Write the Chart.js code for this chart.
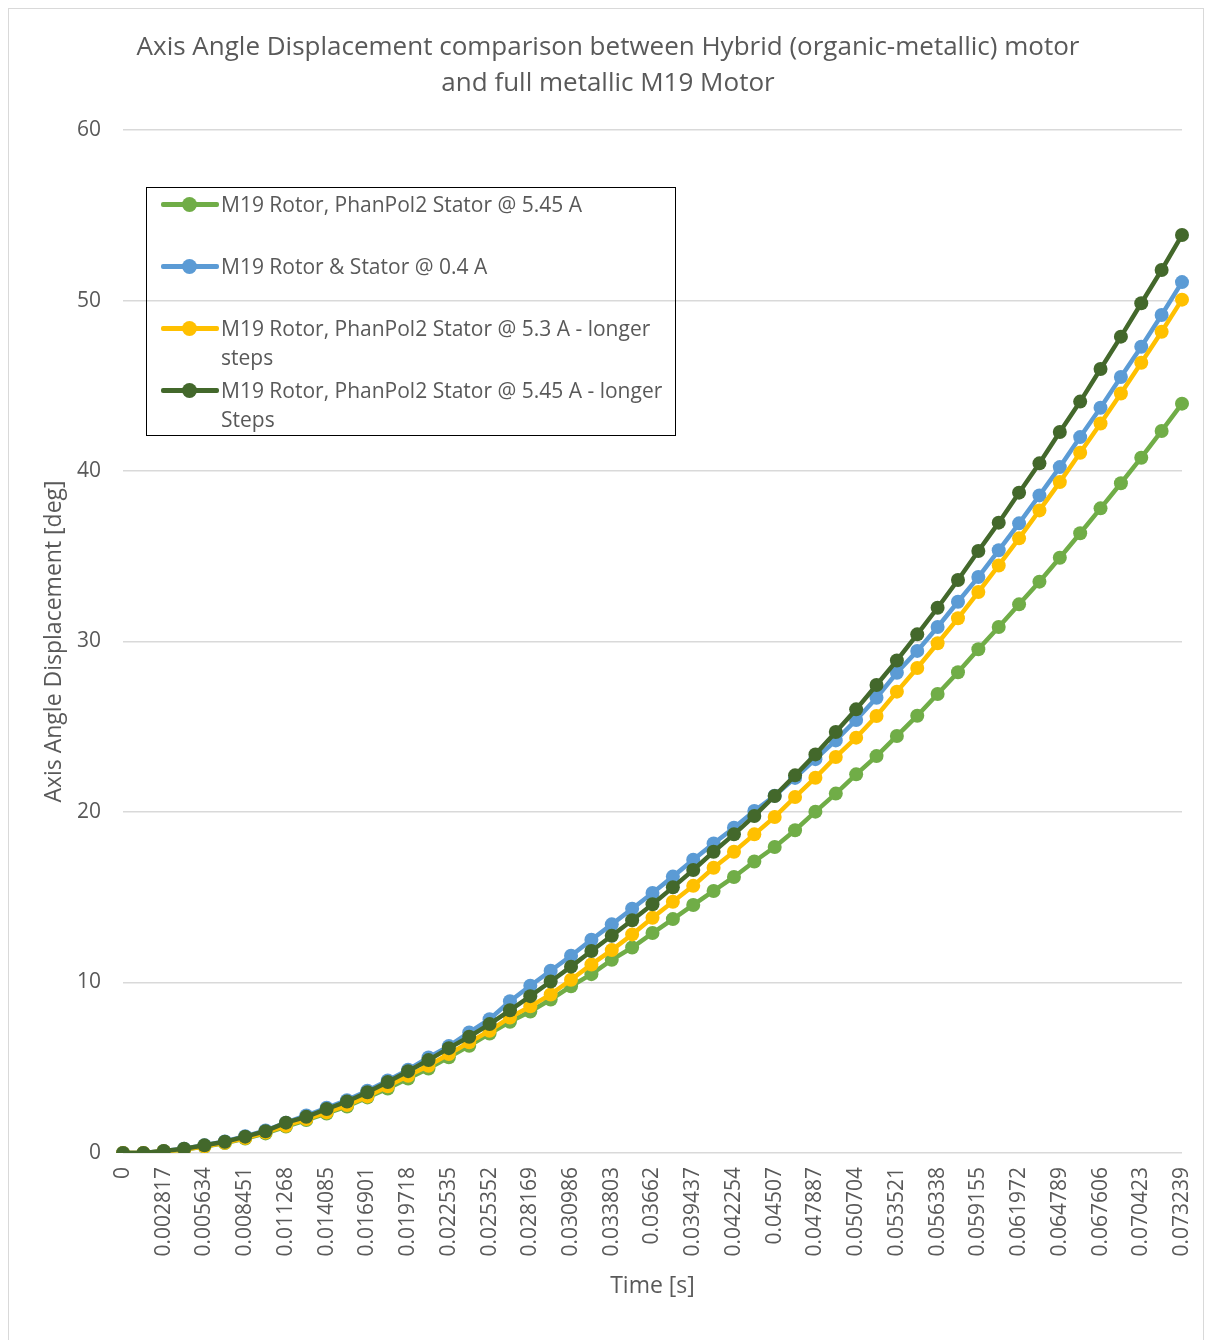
<!DOCTYPE html>
<html>
<head>
<meta charset="utf-8">
<title>Axis Angle Displacement</title>
<script src="https://cdn.jsdelivr.net/npm/chart.js@4.4.1/dist/chart.umd.min.js"></script>
<style>
    body { margin: 0; background: #fff; font-family: "Open Sans", sans-serif; }
    #wrap { position: relative; width: 1205px; height: 1340px; overflow: hidden; }
    #frame { position: absolute; left: 8px; top: 8px; width: 1194px; height: 1340px; border: 1px solid #d9d9d9; }
    #chart { position: absolute; left: 0; top: 0; }
    #legend { position: absolute; left: 146px; top: 187px; width: 528px; height: 247px; border: 1.5px solid #000; }
    .entry { position: absolute; left: 0; width: 100%; height: 58px; }
    .sample { position: absolute; left: 14px; top: 12px; width: 58px; height: 5px; border-radius: 2px; }
    .dot { position: absolute; left: 21px; top: -5px; width: 15px; height: 15px; border-radius: 50%; }
    .text { position: absolute; left: 74px; top: 0; width: 458px; font-size: 21px; line-height: 29px; color: #595959; }
</style>
</head>
<body>
<div id="wrap">
    <div id="frame"></div>
    <canvas id="chart" width="1205" height="1340"></canvas>
    <div id="legend"></div>
</div>
<script>
// time steps on the category axis (only every other label is printed)
const timeLabels = [
    "0", "0.001408", "0.002817", "0.004225", "0.005634", "0.007042", "0.008451", "0.009859",
    "0.011268", "0.012676", "0.014085", "0.015493", "0.016901", "0.01831", "0.019718", "0.021127",
    "0.022535", "0.023944", "0.025352", "0.02676", "0.028169", "0.029577", "0.030986", "0.032394",
    "0.033803", "0.035211", "0.03662", "0.038028", "0.039437", "0.040845", "0.042254", "0.043662",
    "0.04507", "0.046479", "0.047887", "0.049296", "0.050704", "0.052113", "0.053521", "0.05493",
    "0.056338", "0.057746", "0.059155", "0.060563", "0.061972", "0.06338", "0.064789", "0.066197",
    "0.067606", "0.069014", "0.070423", "0.071831", "0.073239"
];

const seriesNames = [
    "M19 Rotor, PhanPol2 Stator @ 5.45 A",
    "M19 Rotor & Stator @ 0.4 A",
    "M19 Rotor, PhanPol2 Stator @ 5.3 A - longer steps",
    "M19 Rotor, PhanPol2 Stator @ 5.45 A - longer Steps"
];
const seriesColors = ["#70AD47", "#5B9BD5", "#FFC000", "#43682B"];

const phanPol545 = [
    0, 0, 0.1, 0.2, 0.38, 0.58, 0.85, 1.15, 1.55, 1.93, 2.32, 2.73, 3.26, 3.78, 4.37, 4.96,
    5.61, 6.29, 7.01, 7.7, 8.3, 9.0, 9.78, 10.49, 11.33, 12.05, 12.9, 13.72, 14.55, 15.37, 16.19, 17.1,
    17.95, 18.93, 20.02, 21.08, 22.21, 23.28, 24.46, 25.65, 26.92, 28.2, 29.55, 30.85, 32.18, 33.51, 34.91, 36.35,
    37.81, 39.28, 40.78, 42.35, 43.95
];
const statorM19 = [
    0, 0, 0.12, 0.25, 0.46, 0.68, 0.98, 1.32, 1.78, 2.2, 2.65, 3.1, 3.65, 4.25, 4.88, 5.6,
    6.27, 7.07, 7.85, 8.9, 9.81, 10.69, 11.57, 12.51, 13.41, 14.33, 15.25, 16.21, 17.2, 18.15, 19.08, 20.06,
    20.95, 22.0, 23.1, 24.2, 25.4, 26.7, 28.17, 29.45, 30.85, 32.33, 33.78, 35.35, 36.93, 38.57, 40.23, 41.99,
    43.71, 45.51, 47.29, 49.15, 51.08
];
const phanPol53Long = [
    0, 0, 0.1, 0.2, 0.4, 0.6, 0.88, 1.2, 1.6, 1.99, 2.38, 2.81, 3.32, 3.91, 4.53, 5.12,
    5.81, 6.49, 7.17, 7.95, 8.6, 9.3, 10.16, 11.06, 11.9, 12.82, 13.8, 14.74, 15.67, 16.73, 17.67, 18.69,
    19.71, 20.88, 22.01, 23.23, 24.36, 25.63, 27.06, 28.45, 29.9, 31.36, 32.9, 34.46, 36.05, 37.69, 39.35, 41.07,
    42.79, 44.55, 46.35, 48.17, 50.05
];
const phanPol545Long = [
    0, 0, 0.12, 0.25, 0.45, 0.66, 0.96, 1.28, 1.78, 2.12, 2.58, 3.02, 3.56, 4.16, 4.8, 5.45,
    6.15, 6.82, 7.56, 8.37, 9.2, 10.06, 10.93, 11.85, 12.74, 13.65, 14.59, 15.58, 16.6, 17.67, 18.69, 19.77,
    20.94, 22.15, 23.38, 24.69, 26.02, 27.45, 28.89, 30.42, 31.98, 33.61, 35.31, 36.97, 38.73, 40.45, 42.29, 44.07,
    45.98, 47.88, 49.84, 51.79, 53.84
];

const seriesData = [phanPol545, statorM19, phanPol53Long, phanPol545Long];
const yTicks = [0, 10, 20, 30, 40, 50, 60];

const textColor = "#595959";
const gridColor = "#d9d9d9";

function makeDataset(i) {
    return {
        label: seriesNames[i],
        data: seriesData[i],
        borderColor: seriesColors[i],
        backgroundColor: seriesColors[i],
        borderWidth: 4.5,
        pointRadius: 7,
        pointBorderWidth: 0,
        pointHoverRadius: 7,
        tension: 0,
        order: seriesData.length - i
    };
}

const chart = new Chart(document.getElementById("chart"), {
    type: "line",
    data: {
        labels: timeLabels,
        datasets: seriesData.map((d, i) => makeDataset(i))
    },
    options: {
        responsive: false,
        animation: false,
        layout: { padding: { top: 0, left: 20, right: 9, bottom: 0 } },
        plugins: {
            legend: { display: false },
            tooltip: { enabled: false },
            title: {
                display: true,
                text: ["Axis Angle Displacement comparison between Hybrid (organic-metallic) motor", "and full metallic M19 Motor"],
                color: textColor,
                font: { family: "Open Sans", size: 26, weight: "normal", lineHeight: 1.385 },
                padding: { top: 30, bottom: 28 }
            }
        },
        scales: {
            x: {
                offset: false,
                grid: { display: false, drawTicks: false },
                border: { display: false },
                ticks: {
                    autoSkip: false,
                    minRotation: 90,
                    maxRotation: 90,
                    padding: 14,
                    color: textColor,
                    font: { family: "Open Sans", size: 21 },
                    callback: function (value, index) {
                        return index % 2 === 0 ? this.getLabelForValue(value) : null;
                    }
                },
                title: {
                    display: true,
                    text: "Time [s]",
                    color: textColor,
                    font: { family: "Open Sans", size: 23 },
                    padding: { top: 0, bottom: 40 }
                },
                afterFit: function (scale) {
                    scale.height = 187;
                    scale.paddingRight = 23;
                }
            },
            y: {
                min: 0,
                max: 60,
                grid: { color: gridColor, lineWidth: 1.5, drawTicks: false },
                border: { display: false },
                afterBuildTicks: function (scale) { scale.ticks = yTicks.map(v => ({ value: v })); },
                ticks: {
                    padding: 22,
                    color: textColor,
                    font: { family: "Open Sans", size: 21 }
                },
                title: {
                    display: true,
                    text: "Axis Angle Displacement [deg]",
                    color: textColor,
                    font: { family: "Open Sans", size: 23 },
                    padding: { top: 21, bottom: 0 }
                },
                afterFit: function (scale) { scale.width = 103; }
            }
        }
    }
});

// html legend built from the chart's datasets
const legendBox = document.getElementById("legend");
chart.data.datasets.forEach((ds, i) => {
    const entry = document.createElement("div");
    entry.className = "entry";
    entry.style.top = (2 + i * 62) + "px";
    const sample = document.createElement("div");
    sample.className = "sample";
    sample.style.background = ds.borderColor;
    const dot = document.createElement("div");
    dot.className = "dot";
    dot.style.background = ds.borderColor;
    sample.appendChild(dot);
    const text = document.createElement("div");
    text.className = "text";
    text.textContent = ds.label;
    entry.appendChild(sample);
    entry.appendChild(text);
    legendBox.appendChild(entry);
});
</script>
</body>
</html>
